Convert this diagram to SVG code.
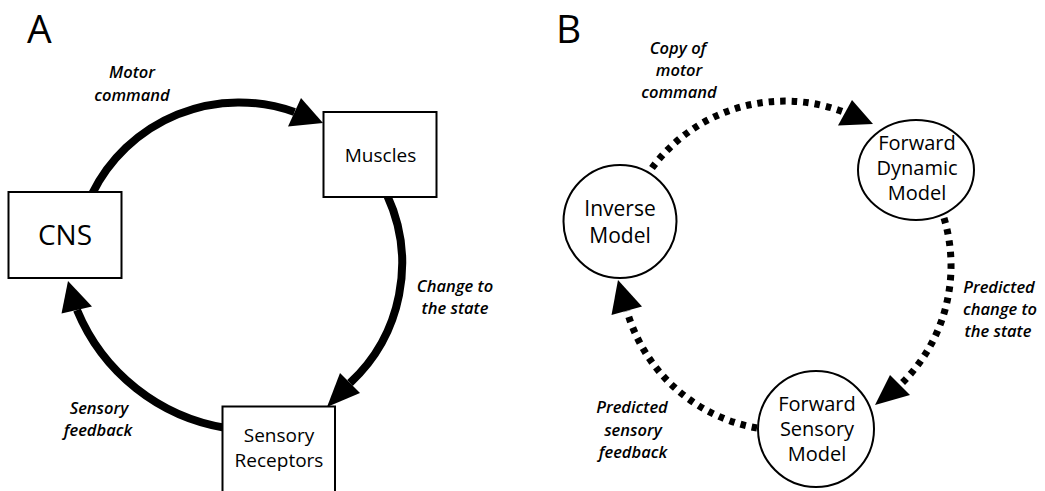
<svg xmlns="http://www.w3.org/2000/svg" width="1045" height="491" viewBox="0 0 1045 491">
  <style>
    .node { fill: #fff; stroke: #000; stroke-width: 2; }
    .t { font-family: "Open Sans", "Noto Sans", "Liberation Sans", sans-serif; font-weight: 500; fill: #000; text-anchor: middle; }
    .lbl { font-family: "Open Sans", "Noto Sans", "Liberation Sans", sans-serif; font-style: italic; font-weight: 600; font-size: 16.5px; fill: #000; text-anchor: middle; }
    .panel { font-family: "Open Sans", "Noto Sans", "Liberation Sans", sans-serif; font-size: 39px; fill: #000; }
    .solid { fill: none; stroke: #000; stroke-width: 8; }
    .dotted { fill: none; stroke: #000; stroke-width: 7; stroke-dasharray: 5.5 6; }
    .head { fill: #000; stroke: none; }
  </style>
  <rect width="1045" height="491" fill="#fff"/>

  <text class="panel" x="27" y="43">A</text>
  <text class="panel" x="556" y="43">B</text>

  <g id="connectors">
    <path class="solid" d="M 92,194 A 164,164 0 0 1 294.5,112"/>
    <polygon class="head" points="323,123 288,126.5 301,98"/>
    <path class="solid" d="M 387,195 A 163,163 0 0 1 350,383"/>
    <polygon class="head" points="327,407 340,373 360,393"/>
    <path class="solid" d="M 226,428 A 195,195 0 0 1 77,310"/>
    <polygon class="head" points="68,281 61.5,313.5 92,306.5"/>

    <path class="dotted" d="M 652,168 A 165,165 0 0 1 845,112.5"/>
    <polygon class="head" points="873,124 838,125.5 852,100"/>
    <path class="dotted" d="M 944,218 A 165,165 0 0 1 900,385"/>
    <polygon class="head" points="875,405 890,375 910,395"/>
    <path class="dotted" d="M 757,428 A 165,165 0 0 1 627,311"/>
    <polygon class="head" points="618,280 611.5,315 642,306.5"/>
  </g>

  <g id="labels">
    <text class="lbl" x="132" y="78">Motor</text>
    <text class="lbl" x="132" y="101">command</text>
    <text class="lbl" x="455" y="292">Change to</text>
    <text class="lbl" x="455" y="314">the state</text>
    <text class="lbl" x="99" y="414">Sensory</text>
    <text class="lbl" x="98" y="436">feedback</text>

    <text class="lbl" x="678" y="54">Copy of</text>
    <text class="lbl" x="679" y="76">motor</text>
    <text class="lbl" x="679" y="98">command</text>
    <text class="lbl" x="999" y="293">Predicted</text>
    <text class="lbl" x="1000" y="315">change to</text>
    <text class="lbl" x="998" y="337">the state</text>
    <text class="lbl" x="632" y="413">Predicted</text>
    <text class="lbl" x="633" y="436">sensory</text>
    <text class="lbl" x="633" y="458">feedback</text>
  </g>

  <g id="cns">
    <rect class="node" x="8.5" y="192" width="113" height="86"/>
    <text class="t" x="65" y="245" font-size="28">CNS</text>
  </g>
  <g id="muscles">
    <rect class="node" x="323.5" y="112" width="113" height="85"/>
    <text class="t" x="380.5" y="162" font-size="19">Muscles</text>
  </g>
  <g id="sensory-receptors">
    <rect class="node" x="222.5" y="406.5" width="112.5" height="95"/>
    <text class="t" x="279" y="442" font-size="19">Sensory</text>
    <text class="t" x="279" y="467" font-size="19">Receptors</text>
  </g>

  <g id="inverse-model">
    <circle class="node" cx="620" cy="221.5" r="56.5"/>
    <text class="t" x="620" y="216" font-size="21">Inverse</text>
    <text class="t" x="620" y="243" font-size="21">Model</text>
  </g>
  <g id="forward-dynamic-model">
    <ellipse class="node" cx="916" cy="170" rx="58" ry="50"/>
    <text class="t" x="917" y="150" font-size="20">Forward</text>
    <text class="t" x="917" y="175" font-size="20">Dynamic</text>
    <text class="t" x="917" y="200" font-size="20">Model</text>
  </g>
  <g id="forward-sensory-model">
    <circle class="node" cx="816" cy="429" r="58"/>
    <text class="t" x="817" y="411" font-size="20">Forward</text>
    <text class="t" x="817" y="436" font-size="20">Sensory</text>
    <text class="t" x="817" y="461" font-size="20">Model</text>
  </g>
</svg>
